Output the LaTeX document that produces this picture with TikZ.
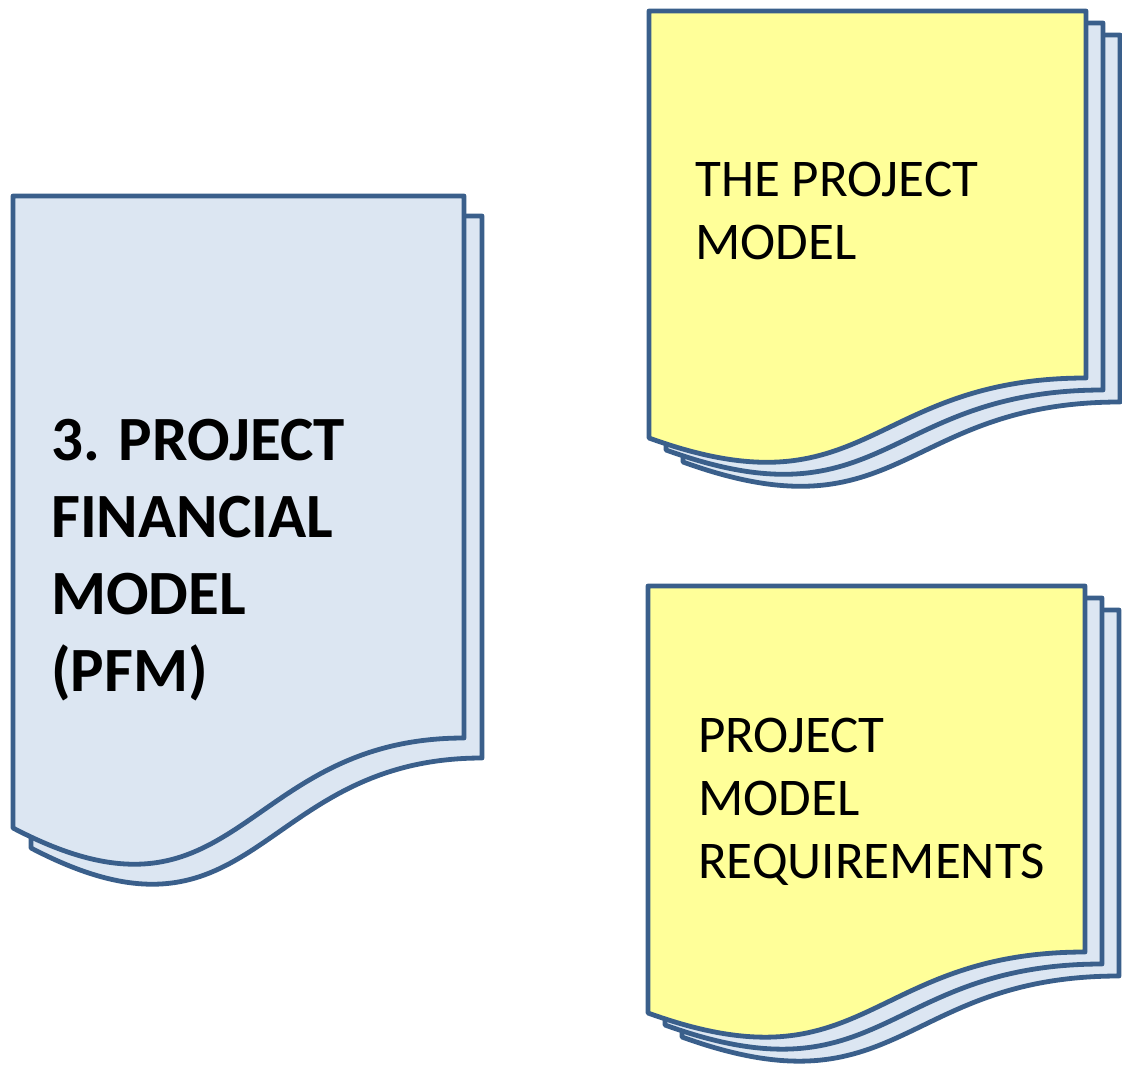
\documentclass[tikz,border=0pt]{standalone}
\usepackage{fontspec}
\setmainfont{Carlito}
\definecolor{edgeblue}{HTML}{3A5F8B}
\definecolor{paleblue}{HTML}{DCE6F2}
\definecolor{paleyellow}{HTML}{FFFF99}
% page outline: x0, y0, width, right-end drop, left-end drop, control drop
\newcommand\docpage[7]{%
  \filldraw[pageline,fill=#7] (#1,#2) -- ++(#3,0) -- ++(0,#4)
    .. controls ++(-#3/2,0) and ++(#3/2,#6-#5) .. (#1,#2+#5) -- cycle;}
\tikzset{
  pageline/.style={draw=edgeblue,line width=4.8pt,line join=round},
  bigtext/.style={inner sep=0pt,anchor=north west,align=left,
    font=\fontsize{63}{77}\selectfont\bfseries},
  smalltext/.style={inner sep=0pt,anchor=north west,align=left,
    font=\fontsize{53}{63}\selectfont},
}
\begin{document}
\begin{tikzpicture}[x=1pt,y=-1pt]
\useasboundingbox (0,0) rectangle (1122,1065);
% left multi-document (PFM)
\docpage{31}{216}{451}{542}{632}{750}{paleblue}
\docpage{13}{196}{451}{542}{632}{750}{paleblue}
\node[bigtext] (pfm) at (51,419) {3. PROJECT\\FINANCIAL\\MODEL\\(PFM)};
% top-right multi-document
\docpage{683}{35}{437}{367}{427}{506}{paleblue}
\docpage{666}{23}{437}{367}{427}{506}{paleblue}
\docpage{649}{11}{437}{367}{427}{506}{paleyellow}
\node[smalltext] (pm) at (695,162) {THE PROJECT\\MODEL};
% bottom-right multi-document
\docpage{682}{610}{437}{366}{427}{506}{paleblue}
\docpage{665}{598}{437}{366}{427}{506}{paleblue}
\docpage{648}{586}{437}{366}{427}{506}{paleyellow}
\node[smalltext] (pmr) at (698,718) {PROJECT\\MODEL\\REQUIREMENTS};
\end{tikzpicture}
\end{document}
